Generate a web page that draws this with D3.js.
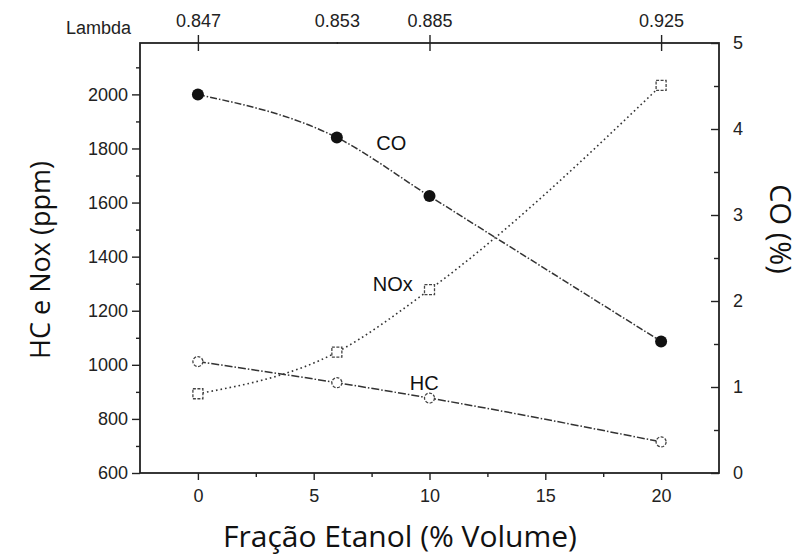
<!DOCTYPE html>
<html>
<head>
<meta charset="utf-8">
<script src="https://cdn.jsdelivr.net/npm/d3@7"></script>
<style>
  html, body { margin: 0; padding: 0; background: #fff; }
  svg { display: block; }
</style>
</head>
<body>
<script>
// ---- data ----
const etanol = [0, 6, 10, 20];                       // % volume
const lambdaLabels = ["0.847", "0.853", "0.885", "0.925"];
const coPct = [4.40, 3.90, 3.22, 1.53];              // CO (%) right axis
const noxPpm = [893, 1047, 1278, 2033];              // NOx (ppm) left axis
const hcPpm = [1012, 934, 877, 715];                 // HC (ppm) left axis
const leftTicks = [600, 800, 1000, 1200, 1400, 1600, 1800, 2000];
const leftMinor = [700, 900, 1100, 1300, 1500, 1700, 1900, 2100];
const rightTicks = [0, 1, 2, 3, 4, 5];
const rightMinor = [0.5, 1.5, 2.5, 3.5, 4.5];
const bottomTicks = [0, 5, 10, 15, 20];
const bottomMinor = [2.5, 7.5, 12.5, 17.5];
const seriesLabels = [
  { text: "CO", x: 7.7, yL: 1793 },
  { text: "NOx", x: 7.55, yL: 1272 },
  { text: "HC", x: 9.15, yL: 907 }
];

const W = 800, H = 556;
const L = 140, R = 719, T = 43, B = 473;
const svg = d3.select("body").append("svg").attr("width", W).attr("height", H);

const x = d3.scaleLinear().domain([-2.5, 22.5]).range([L, R]);
const yL = d3.scaleLinear().domain([600, 2190]).range([B, T]);
const yR = d3.scaleLinear().domain([0, 5]).range([B, T]);

const tickFont = "'Liberation Sans', Arial, sans-serif";
const tickColor = "#222";

function styleAxis(g) {
  g.select(".domain").remove();
  g.selectAll("line").attr("stroke", "#222").attr("stroke-width", 1.4);
  g.selectAll("text").attr("font-family", tickFont).attr("font-size", 18).attr("fill", tickColor);
}

// left axis
svg.append("g").attr("transform", `translate(${L},0)`)
  .call(d3.axisLeft(yL).tickValues(leftTicks).tickSize(8).tickPadding(4).tickFormat(d3.format("d")))
  .call(styleAxis);
svg.append("g").attr("transform", `translate(${L},0)`)
  .call(d3.axisLeft(yL).tickValues(leftMinor).tickSize(4).tickFormat(""))
  .call(styleAxis);

// right axis (ticks inward)
svg.append("g").attr("transform", `translate(${R},0)`)
  .call(d3.axisRight(yR).tickValues(rightTicks).tickSize(-8).tickPadding(14).tickFormat(d3.format("d")))
  .call(styleAxis);
svg.append("g").attr("transform", `translate(${R},0)`)
  .call(d3.axisRight(yR).tickValues(rightMinor).tickSize(-5).tickFormat(""))
  .call(styleAxis);

// bottom axis
svg.append("g").attr("transform", `translate(0,${B})`)
  .call(d3.axisBottom(x).tickValues(bottomTicks).tickSize(7).tickPadding(9).tickFormat(d3.format("d")))
  .call(styleAxis);
svg.append("g").attr("transform", `translate(0,${B})`)
  .call(d3.axisBottom(x).tickValues(bottomMinor).tickSize(4).tickFormat(""))
  .call(styleAxis);

// top axis (lambda)
const topAx = svg.append("g").attr("transform", `translate(0,${T})`)
  .call(d3.axisTop(x).tickValues(etanol).tickSize(8).tickPadding(8)
    .tickFormat((d, i) => lambdaLabels[i]))
  .call(styleAxis);
topAx.selectAll(".tick line").attr("y2", (d, i) => i === 1 ? -1 : -8).attr("y1", (d, i) => i === 1 ? 1 : 8);
svg.append("text").attr("x", 131).attr("y", 34).attr("text-anchor", "end")
  .attr("font-family", tickFont).attr("font-size", 18).attr("fill", tickColor).text("Lambda");

// frame
svg.append("rect").attr("x", L).attr("y", T).attr("width", R - L).attr("height", B - T)
  .attr("fill", "none").attr("stroke", "#222").attr("stroke-width", 1.8);

// lines
const lineCO = d3.line().x((d, i) => x(etanol[i])).y(d => yR(d)).curve(d3.curveMonotoneX);
const lineL = d3.line().x((d, i) => x(etanol[i])).y(d => yL(d)).curve(d3.curveMonotoneX);

svg.append("path").attr("d", lineCO(coPct)).attr("fill", "none")
  .attr("stroke", "#333").attr("stroke-width", 1.5).attr("stroke-dasharray", "7,2,1.5,2");
svg.append("path").attr("d", lineL(noxPpm)).attr("fill", "none")
  .attr("stroke", "#333").attr("stroke-width", 1.6).attr("stroke-dasharray", "1.6,3");
svg.append("path").attr("d", lineL(hcPpm)).attr("fill", "none")
  .attr("stroke", "#333").attr("stroke-width", 1.5).attr("stroke-dasharray", "8,2,1.5,2");

// markers
svg.selectAll(".co").data(coPct).enter().append("circle")
  .attr("cx", (d, i) => x(etanol[i])).attr("cy", d => yR(d)).attr("r", 6).attr("fill", "#111");
svg.selectAll(".nox").data(noxPpm).enter().append("rect")
  .attr("x", (d, i) => x(etanol[i]) - 5).attr("y", d => yL(d) - 5).attr("width", 10).attr("height", 10)
  .attr("fill", "#fff").attr("stroke", "#444").attr("stroke-width", 1.3).attr("stroke-dasharray", "3,1.5");
svg.selectAll(".hc").data(hcPpm).enter().append("circle")
  .attr("cx", (d, i) => x(etanol[i])).attr("cy", d => yL(d)).attr("r", 5)
  .attr("fill", "#fff").attr("stroke", "#444").attr("stroke-width", 1.3).attr("stroke-dasharray", "3,1.5");

// series labels
svg.selectAll(".slabel").data(seriesLabels).enter().append("text")
  .attr("x", d => x(d.x)).attr("y", d => yL(d.yL))
  .attr("font-family", tickFont).attr("font-size", 20).attr("fill", "#111").text(d => d.text);

// axis titles
const titleFont = "'Open Sans', 'Noto Sans', sans-serif";
svg.append("text").attr("transform", `translate(50,${(T + B) / 2 + 2}) rotate(-90)`)
  .attr("text-anchor", "middle").attr("font-family", titleFont).attr("font-size", 27).attr("fill", "#111")
  .text("HC e Nox (ppm)");
svg.append("text").attr("transform", `translate(770,229) rotate(90)`)
  .attr("text-anchor", "middle").attr("font-family", titleFont).attr("font-size", 29).attr("fill", "#111")
  .text("CO (%)");
svg.append("text").attr("x", 400).attr("y", 547)
  .attr("text-anchor", "middle").attr("font-family", titleFont).attr("font-size", 30).attr("fill", "#111")
  .text("Fração Etanol (% Volume)");
</script>
</body>
</html>
